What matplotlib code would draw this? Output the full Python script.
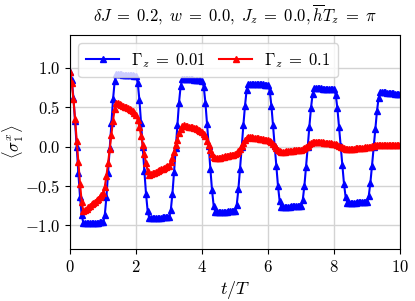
import matplotlib
matplotlib.use("Agg")
import matplotlib.pyplot as plt
import numpy as np

plt.rcParams['mathtext.fontset'] = 'cm'
plt.rcParams['font.family'] = 'serif'
plt.rcParams['font.serif'] = ['cmr10', 'DejaVu Serif']
plt.rcParams['axes.formatter.use_mathtext'] = True
plt.rcParams['axes.unicode_minus'] = True

t = np.round(np.arange(0, 201) * 0.05, 2)

blue = [
    # period 0
    0.95, 0.85, 0.62, 0.32, -0.01, -0.34, -0.64, -0.87, -0.97,
    -0.97, -0.97, -0.97, -0.97, -0.97, -0.97, -0.965, -0.965, -0.965, -0.96, -0.96,
    -0.96, -0.87, -0.64, -0.34, -0.02, 0.30, 0.60, 0.83, 0.92,
    0.92, 0.92, 0.92, 0.915, 0.915, 0.91, 0.91, 0.91, 0.905, 0.905, 0.90,
    # period 1
    0.90, 0.81, 0.59, 0.30, -0.01, -0.31, -0.60, -0.82, -0.91,
    -0.91, -0.91, -0.91, -0.91, -0.91, -0.905, -0.905, -0.90, -0.90, -0.90, -0.90,
    -0.90, -0.81, -0.60, -0.32, -0.02, 0.28, 0.56, 0.77, 0.86,
    0.86, 0.86, 0.86, 0.86, 0.855, 0.855, 0.85, 0.85, 0.85, 0.845, 0.845,
    # period 2
    0.84, 0.76, 0.56, 0.29, 0.01, -0.28, -0.55, -0.75, -0.83,
    -0.83, -0.83, -0.83, -0.83, -0.83, -0.825, -0.825, -0.82, -0.82, -0.82, -0.82,
    -0.82, -0.74, -0.54, -0.28, -0.01, 0.27, 0.52, 0.72, 0.80,
    0.80, 0.80, 0.80, 0.80, 0.795, 0.795, 0.79, 0.79, 0.79, 0.785, 0.785,
    # period 3
    0.785, 0.71, 0.52, 0.27, 0.01, -0.25, -0.50, -0.69, -0.765,
    -0.765, -0.765, -0.765, -0.765, -0.765, -0.76, -0.76, -0.755, -0.755, -0.755, -0.755,
    -0.755, -0.68, -0.50, -0.26, -0.01, 0.25, 0.49, 0.67, 0.74,
    0.74, 0.74, 0.74, 0.74, 0.735, 0.735, 0.735, 0.735, 0.73, 0.73, 0.73,
    # period 4
    0.73, 0.66, 0.49, 0.25, 0.01, -0.23, -0.47, -0.64, -0.71,
    -0.71, -0.71, -0.71, -0.71, -0.71, -0.705, -0.705, -0.70, -0.70, -0.70, -0.70,
    -0.70, -0.63, -0.46, -0.24, -0.005, 0.23, 0.45, 0.62, 0.69,
    0.69, 0.69, 0.69, 0.685, 0.685, 0.68, 0.68, 0.68, 0.675, 0.675, 0.67, 0.67,
]

red = [
    # period 0
    0.95, 0.81, 0.60, 0.35, 0.07, -0.20, -0.47, -0.70, -0.82,
    -0.81, -0.79, -0.77, -0.75, -0.73, -0.71, -0.70, -0.68, -0.66, -0.64, -0.62,
    -0.59, -0.51, -0.37, -0.21, -0.03, 0.15, 0.33, 0.48, 0.55,
    0.55, 0.54, 0.53, 0.52, 0.51, 0.50, 0.49, 0.48, 0.47, 0.45, 0.43,
    # period 1
    0.40, 0.34, 0.25, 0.14, 0.02, -0.09, -0.21, -0.31, -0.36,
    -0.35, -0.34, -0.33, -0.32, -0.31, -0.30, -0.29, -0.28, -0.27, -0.26, -0.25,
    -0.24, -0.20, -0.14, -0.07, 0.02, 0.09, 0.17, 0.23, 0.26,
    0.27, 0.265, 0.26, 0.255, 0.25, 0.245, 0.24, 0.235, 0.225, 0.215, 0.205,
    # period 2
    0.19, 0.16, 0.13, 0.07, 0.02, -0.04, -0.09, -0.13, -0.15,
    -0.15, -0.145, -0.14, -0.135, -0.13, -0.125, -0.12, -0.115, -0.11, -0.105, -0.10,
    -0.095, -0.08, -0.06, -0.025, 0.01, 0.05, 0.085, 0.11, 0.12,
    0.12, 0.12, 0.115, 0.11, 0.11, 0.105, 0.10, 0.10, 0.095, 0.09, 0.085,
    # period 3
    0.08, 0.07, 0.055, 0.03, 0.01, -0.015, -0.04, -0.055, -0.065,
    -0.065, -0.062, -0.06, -0.058, -0.055, -0.052, -0.05, -0.048, -0.045, -0.042, -0.04,
    -0.038, -0.03, -0.018, -0.004, 0.013, 0.03, 0.045, 0.06, 0.065,
    0.065, 0.062, 0.06, 0.058, 0.055, 0.052, 0.05, 0.047, 0.044, 0.04, 0.037,
    # period 4
    0.033, 0.028, 0.02, 0.01, 0.0, -0.01, -0.02, -0.027, -0.03,
    -0.03, -0.028, -0.026, -0.024, -0.022, -0.02, -0.018, -0.016, -0.014, -0.012, -0.01,
    -0.008, -0.004, 0.0, 0.006, 0.012, 0.016, 0.02, 0.022, 0.023,
    0.023, 0.023, 0.022, 0.022, 0.021, 0.021, 0.02, 0.02, 0.019, 0.019, 0.018, 0.018,
]

labels = [r'$\Gamma_z\;=\;0.01$', r'$\Gamma_z\;=\;0.1$']

fig = plt.figure(figsize=(4.15, 3.01), dpi=100)
ax = fig.add_axes([0.169, 0.173, 0.795, 0.711])
ax.plot(t, blue, color='blue', marker='^', markersize=4.5, linewidth=1.5, label=labels[0])
ax.plot(t, red, color='red', marker='^', markersize=4.5, linewidth=1.5, label=labels[1])
ax.set_xlim(0, 10)
ax.set_ylim(-1.3, 1.42)
ax.set_xticks([0, 2, 4, 6, 8, 10])
ax.set_yticks([-1.0, -0.5, 0.0, 0.5, 1.0])
ax.grid(True, color='#d3d3d3', linewidth=1.0)
ax.set_axisbelow(True)
ax.tick_params(labelsize=12)
ax.set_xlabel(r'$t/T$', fontsize=13, labelpad=3)
ax.set_ylabel(r'$\langle\sigma_1^x\rangle$', fontsize=12)
ax.yaxis.set_label_coords(-0.135, 0.5)
ax.set_title(r'$\delta J\;=\;0.2,\; w\;=\;0.0,\; J_z\;=\;0.0, \overline{h}T_z\;=\;\pi$',
             fontsize=12, pad=10)
ax.legend(loc='upper left', ncol=2, fontsize=12, handlelength=2.0, columnspacing=0.8,
          borderpad=0.45, handletextpad=0.7)
fig.savefig('out.png', dpi=100)
